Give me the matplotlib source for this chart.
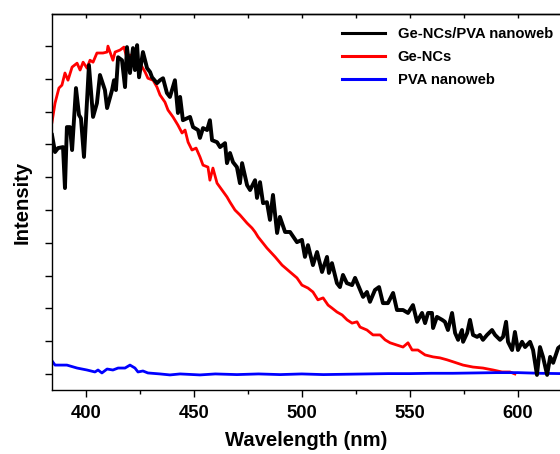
import matplotlib
matplotlib.use("Agg")
import matplotlib.pyplot as plt
from matplotlib.ticker import MultipleLocator

plt.rcParams['font.family'] = ['Liberation Sans', 'DejaVu Sans']
plt.rcParams['font.weight'] = 'bold'

# Ge-NCs/PVA nanoweb (black)
wl_black = [384.4, 385.8, 387.2, 389.5, 390.4, 391.3, 392.7, 393.7, 395.5, 396.9, 397.8, 399.2,
            401.5, 403.4, 405.2, 406.6, 408.9, 409.9, 412.2, 413.1, 414.0, 415.0, 416.8, 418.2,
            419.1, 420.5, 421.9, 422.8, 423.8, 424.7, 426.5, 428.4, 429.8, 430.7, 433.0, 434.4,
            435.8, 437.6, 439.0, 441.3, 442.7, 443.7, 445.0, 448.3, 449.7, 452.0, 452.9, 454.3,
            456.2, 457.5, 458.5, 460.8, 462.2, 464.5, 465.4, 466.8, 468.2, 470.0, 471.4, 472.4,
            474.7, 476.1, 478.4, 479.3, 480.7, 482.1, 483.9, 485.3, 486.7, 488.6, 489.9, 492.3,
            494.6, 497.8, 500.1, 501.5, 502.9, 505.2, 507.1, 509.4, 511.7, 512.6, 514.0, 516.3,
            517.7, 519.1, 520.9, 523.3, 524.7, 526.1, 528.4, 530.2, 531.6, 533.9, 535.8, 537.6,
            539.9, 542.3, 544.1, 546.9, 549.2, 551.5, 553.4, 555.7, 557.1, 558.5, 560.3, 560.8,
            562.6, 565.0, 566.3, 567.7, 569.6, 571.0, 572.4, 574.2, 574.7, 576.6, 577.9, 579.3,
            581.2, 582.5, 583.9, 585.8, 588.1, 589.5, 591.8, 593.2, 594.6, 595.5, 597.4, 598.7,
            600.1, 602.0, 603.4, 605.7, 607.1, 608.9, 610.3, 611.7, 613.6, 615.0, 616.4, 618.7,
            620.5]
int_black = [0.729, 0.677, 0.689, 0.692, 0.567, 0.753, 0.753, 0.683, 0.872, 0.790, 0.780, 0.662,
             0.942, 0.784, 0.826, 0.912, 0.866, 0.811, 0.866, 0.896, 0.866, 0.966, 0.957, 0.875,
             0.997, 0.918, 0.994, 0.927, 1.003, 0.905, 0.982, 0.933, 0.921, 0.905, 0.887, 0.896,
             0.902, 0.857, 0.845, 0.896, 0.796, 0.845, 0.774, 0.784, 0.753, 0.744, 0.720, 0.750,
             0.744, 0.774, 0.713, 0.707, 0.692, 0.704, 0.643, 0.674, 0.646, 0.631, 0.582, 0.643,
             0.576, 0.561, 0.591, 0.537, 0.585, 0.521, 0.524, 0.470, 0.546, 0.430, 0.479, 0.433,
             0.433, 0.402, 0.409, 0.357, 0.393, 0.332, 0.372, 0.311, 0.357, 0.308, 0.338, 0.277,
             0.265, 0.302, 0.277, 0.271, 0.293, 0.271, 0.235, 0.250, 0.220, 0.256, 0.265, 0.216,
             0.216, 0.247, 0.195, 0.195, 0.186, 0.210, 0.159, 0.186, 0.155, 0.186, 0.186, 0.140,
             0.174, 0.165, 0.159, 0.134, 0.186, 0.125, 0.104, 0.134, 0.098, 0.125, 0.165, 0.119,
             0.113, 0.119, 0.104, 0.119, 0.134, 0.119, 0.104, 0.113, 0.159, 0.098, 0.073, 0.128,
             0.073, 0.098, 0.082, 0.098, 0.073, -0.003, 0.082, 0.052, -0.003, 0.052, 0.034, 0.079,
             0.088]

# Ge-NCs (red)
wl_red = [384.4, 385.8, 387.6, 389.0, 390.4, 391.8, 393.7, 396.0, 397.4, 398.8, 400.6, 402.0,
          403.4, 405.2, 408.0, 409.9, 410.3, 412.6, 413.6, 415.9, 417.7, 419.1, 420.5, 421.9,
          423.8, 425.1, 427.5, 428.8, 431.2, 433.0, 434.4, 436.7, 438.1, 440.4, 442.7, 444.6,
          446.0, 447.4, 449.2, 451.1, 452.9, 454.3, 456.6, 457.5, 458.9, 460.8, 463.1, 465.4,
          466.8, 469.1, 471.4, 474.7, 477.0, 478.4, 479.8, 482.1, 483.9, 487.7, 490.9, 494.6,
          497.8, 500.1, 502.9, 505.2, 507.5, 509.9, 512.2, 514.0, 516.3, 518.7, 521.0, 523.3,
          525.6, 527.0, 530.2, 533.0, 536.3, 538.6, 540.9, 544.1, 546.9, 549.2, 551.1, 553.8,
          557.1, 560.8, 564.0, 567.3, 570.1, 574.7, 579.3, 583.9, 588.6, 592.7, 596.4, 598.7]
int_red = [0.768, 0.826, 0.872, 0.881, 0.918, 0.896, 0.936, 0.948, 0.927, 0.951, 0.933, 0.957,
           0.951, 0.979, 0.979, 0.982, 1.000, 0.957, 0.982, 0.988, 0.997, 0.963, 0.973, 0.957,
           0.933, 0.948, 0.921, 0.902, 0.896, 0.875, 0.851, 0.829, 0.805, 0.784, 0.759, 0.735,
           0.744, 0.707, 0.683, 0.689, 0.662, 0.637, 0.631, 0.591, 0.628, 0.582, 0.561, 0.540,
           0.524, 0.500, 0.485, 0.460, 0.445, 0.433, 0.418, 0.399, 0.384, 0.357, 0.332, 0.311,
           0.293, 0.271, 0.262, 0.250, 0.226, 0.232, 0.210, 0.201, 0.189, 0.180, 0.165, 0.155,
           0.159, 0.143, 0.134, 0.119, 0.119, 0.104, 0.095, 0.088, 0.082, 0.095, 0.073, 0.073,
           0.058, 0.052, 0.049, 0.043, 0.037, 0.027, 0.021, 0.018, 0.012, 0.006, 0.006, 0.000]

# PVA nanoweb (blue)
wl_blue = [384.4, 385.8, 391.3, 396.0, 400.6, 404.3, 405.7, 407.5, 409.9, 412.6, 415.0, 418.2,
           420.5, 422.8, 424.2, 426.5, 428.8, 434.4, 439.0, 443.7, 452.9, 460.0, 470.0, 480.0,
           490.0, 500.0, 510.0, 520.0, 530.0, 540.0, 550.0, 560.0, 570.0, 580.0, 590.0, 600.0,
           610.0, 620.0]
int_blue = [0.040, 0.027, 0.027, 0.018, 0.012, 0.006, 0.012, 0.003, 0.015, 0.012, 0.018, 0.018,
            0.027, 0.018, 0.006, 0.009, 0.003, 0.000, -0.003, 0.000, -0.003, 0.000, -0.002, 0.000,
            -0.002, 0.000, -0.002, -0.001, 0.000, 0.001, 0.001, 0.002, 0.002, 0.003, 0.004, 0.004,
            0.002, 0.001]

labels = ["Ge-NCs/PVA nanoweb", "Ge-NCs", "PVA nanoweb"]

fig = plt.figure(figsize=(5.6, 4.54), dpi=100)
ax = fig.add_axes([52/560, 64/454, 508.5/560, 376/454])

ax.plot(wl_black, int_black, color='black', lw=2.8, label=labels[0], zorder=3,
        solid_joinstyle='round')
ax.plot(wl_red, int_red, color='red', lw=2.0, label=labels[1], zorder=2)
ax.plot(wl_blue, int_blue, color='blue', lw=2.0, label=labels[2], zorder=2)

ax.set_xlim(384.4, 619.8)
ax.set_ylim(-0.049, 1.098)

for s in ['left', 'bottom', 'top']:
    ax.spines[s].set_linewidth(1.0)
ax.spines['right'].set_visible(False)

ax.xaxis.set_major_locator(MultipleLocator(50))
ax.xaxis.set_minor_locator(MultipleLocator(25))
ax.yaxis.set_major_locator(MultipleLocator(0.1))
ax.tick_params(axis='x', which='major', direction='out', length=5, width=1.0,
               labelsize=13.3, pad=6, top=False)
ax.tick_params(axis='x', which='minor', direction='out', length=3, width=1.0, top=False)
ax.tick_params(axis='y', which='major', direction='out', length=5, width=1.0,
               labelleft=False, right=False)

# top axis small inward ticks
sec = ax.secondary_xaxis('top')
sec.xaxis.set_major_locator(MultipleLocator(25))
sec.tick_params(direction='in', length=3, width=1.0, labeltop=False)
sec.spines['top'].set_linewidth(1.0)

for lab in ax.get_xticklabels():
    lab.set_fontweight('bold')

ax.set_xlabel("Wavelength (nm)", fontsize=14.6, fontweight='bold', labelpad=6)
ax.set_ylabel("Intensity", fontsize=14.6, fontweight='bold', labelpad=10)

leg = ax.legend(loc='upper left', bbox_to_anchor=((336 - 52) / 508.5, (390 - 21) / 376),
                frameon=False, fontsize=10.6, handlelength=2.9, handletextpad=0.9,
                labelspacing=0.62, borderaxespad=0)
for t in leg.get_texts():
    t.set_fontweight('bold')
for h in leg.get_lines():
    h.set_linewidth(2.2)

fig.savefig("out.png", dpi=100)
